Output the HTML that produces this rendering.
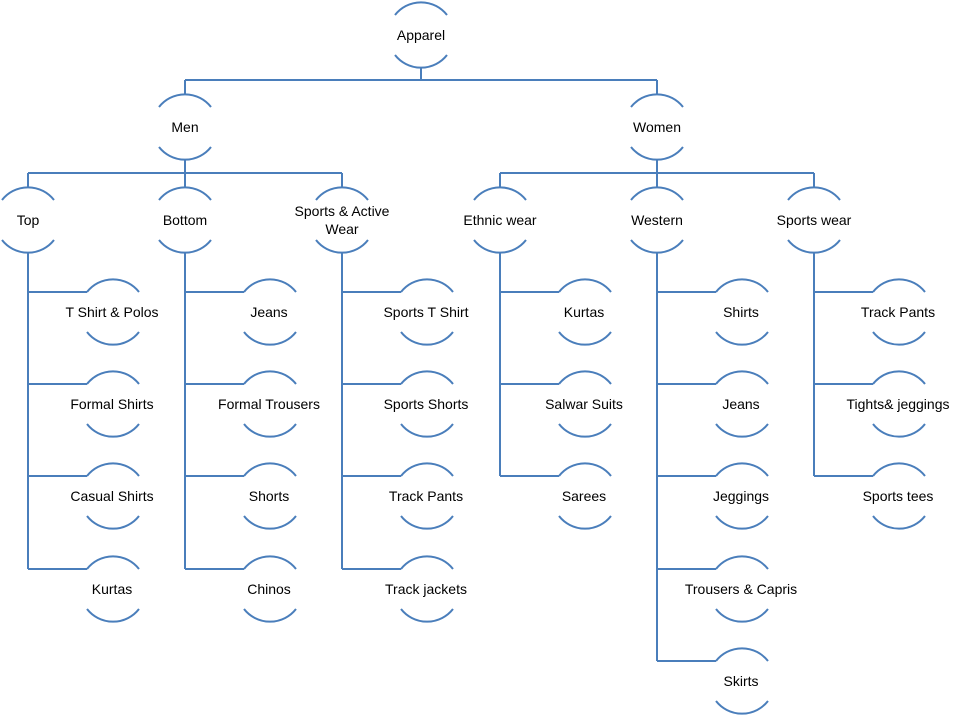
<!DOCTYPE html>
<html><head><meta charset="utf-8"><style>
html,body{margin:0;padding:0;background:#fff;}
svg{display:block;}
text{font-family:"Liberation Sans",sans-serif;font-size:14px;fill:#000;text-anchor:middle;dominant-baseline:central;}
</style></head><body>
<svg width="958" height="718" viewBox="0 0 958 718" xmlns="http://www.w3.org/2000/svg">
<defs>
<g id="n" fill="none" stroke="#4a7ebb" stroke-width="2">
<path d="M-26,-20 A33,33 0 0 1 26,-20"/>
<path d="M-26,20 A33,33 0 0 0 26,20"/>
</g>
</defs>
<g fill="none" stroke="#4a7ebb" stroke-width="2">
<path d="M421,68V80 M185,80H657 M185,80V94 M657,80V94"/>
<path d="M185,160V173 M28,173H342 M28,173V187 M185,173V187 M342,173V187"/>
<path d="M657,160V173 M500,173H814 M500,173V187 M657,173V187 M814,173V187"/>
<path d="M28,253V569 M28,292H87 M28,384H87 M28,476H87 M28,569H87"/>
<path d="M185,253V569 M185,292H244 M185,384H244 M185,476H244 M185,569H244"/>
<path d="M342,253V569 M342,292H401 M342,384H401 M342,476H401 M342,569H401"/>
<path d="M500,253V476 M500,292H559 M500,384H559 M500,476H559"/>
<path d="M657,253V661 M657,292H716 M657,384H716 M657,476H716 M657,569H716 M657,661H716"/>
<path d="M814,253V476 M814,292H873 M814,384H873 M814,476H873"/>
</g>
<use href="#n" x="421" y="35"/><text x="421" y="35">Apparel</text>
<use href="#n" x="185" y="127"/><text x="185" y="127">Men</text>
<use href="#n" x="657" y="127"/><text x="657" y="127">Women</text>
<use href="#n" x="28" y="220"/><text x="28" y="220">Top</text>
<use href="#n" x="185" y="220"/><text x="185" y="220">Bottom</text>
<use href="#n" x="342" y="220"/><text x="342" y="211">Sports &amp; Active</text><text x="342" y="229">Wear</text>
<use href="#n" x="500" y="220"/><text x="500" y="220">Ethnic wear</text>
<use href="#n" x="657" y="220"/><text x="657" y="220">Western</text>
<use href="#n" x="814" y="220"/><text x="814" y="220">Sports wear</text>

<use href="#n" x="113" y="312"/><text x="112" y="312">T Shirt &amp; Polos</text>
<use href="#n" x="113" y="404"/><text x="112" y="404">Formal Shirts</text>
<use href="#n" x="113" y="496"/><text x="112" y="496">Casual Shirts</text>
<use href="#n" x="113" y="589"/><text x="112" y="589">Kurtas</text>

<use href="#n" x="270" y="312"/><text x="269" y="312">Jeans</text>
<use href="#n" x="270" y="404"/><text x="269" y="404">Formal Trousers</text>
<use href="#n" x="270" y="496"/><text x="269" y="496">Shorts</text>
<use href="#n" x="270" y="589"/><text x="269" y="589">Chinos</text>

<use href="#n" x="427" y="312"/><text x="426" y="312">Sports T Shirt</text>
<use href="#n" x="427" y="404"/><text x="426" y="404">Sports Shorts</text>
<use href="#n" x="427" y="496"/><text x="426" y="496">Track Pants</text>
<use href="#n" x="427" y="589"/><text x="426" y="589">Track jackets</text>

<use href="#n" x="585" y="312"/><text x="584" y="312">Kurtas</text>
<use href="#n" x="585" y="404"/><text x="584" y="404">Salwar Suits</text>
<use href="#n" x="585" y="496"/><text x="584" y="496">Sarees</text>

<use href="#n" x="742" y="312"/><text x="741" y="312">Shirts</text>
<use href="#n" x="742" y="404"/><text x="741" y="404">Jeans</text>
<use href="#n" x="742" y="496"/><text x="741" y="496">Jeggings</text>
<use href="#n" x="742" y="589"/><text x="741" y="589">Trousers &amp; Capris</text>
<use href="#n" x="742" y="681"/><text x="741" y="681">Skirts</text>

<use href="#n" x="899" y="312"/><text x="898" y="312">Track Pants</text>
<use href="#n" x="899" y="404"/><text x="898" y="404">Tights&amp; jeggings</text>
<use href="#n" x="899" y="496"/><text x="898" y="496">Sports tees</text>
</svg>
</body></html>
